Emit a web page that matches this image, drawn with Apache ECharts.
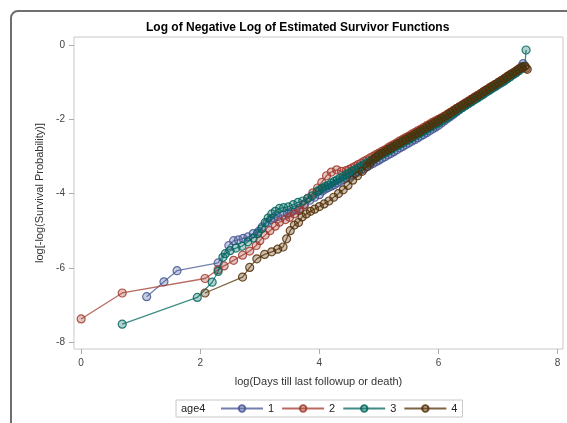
<!DOCTYPE html>
<html>
<head>
<meta charset="utf-8">
<script src="https://cdn.jsdelivr.net/npm/echarts@6/dist/echarts.min.js"></script>
<style>
  html, body { margin: 0; padding: 0; background: #fff; }
  #chart-container { width: 567px; height: 423px; }
</style>
</head>
<body>
<div id="chart-container"></div>
<script>
var dom = document.getElementById('chart-container');
var myChart = echarts.init(dom, null, { renderer: 'canvas' });

var groupNames = ['1', '2', '3', '4'];
var xTicks = [0, 2, 4, 6, 8];
var yTicks = [-8, -6, -4, -2, 0];

// age4 = 1
var group1 = [
  [1.10, -6.78], [1.39, -6.38], [1.61, -6.08], [2.30, -5.87], [2.48, -5.40], [2.56, -5.27],
  [2.64, -5.25], [2.72, -5.21], [2.80, -5.17], [2.89, -5.08], [2.98, -5.02], [3.04, -4.90],
  [3.12, -4.78], [3.18, -4.70], [3.24, -4.66], [3.30, -4.62], [3.39, -4.58], [3.46, -4.53],
  [3.53, -4.50], [3.60, -4.44], [3.67, -4.40], [3.75, -4.30], [3.84, -4.18], [3.92, -4.10],
  [4.00, -4.03], [4.05, -3.93], [4.10, -3.88], [4.15, -3.84], [4.20, -3.80], [4.25, -3.76],
  [4.30, -3.71], [4.35, -3.67], [4.40, -3.62], [4.45, -3.58], [4.50, -3.54], [4.55, -3.50],
  [4.60, -3.46], [4.65, -3.42], [4.70, -3.37], [4.75, -3.33], [4.80, -3.28], [4.85, -3.23],
  [4.90, -3.19], [4.95, -3.14], [5.00, -3.10], [5.05, -3.05], [5.10, -3.01], [5.15, -2.96],
  [5.20, -2.92], [5.25, -2.87], [5.30, -2.82], [5.35, -2.77], [5.40, -2.73], [5.45, -2.68],
  [5.50, -2.64], [5.55, -2.59], [5.60, -2.55], [5.65, -2.50], [5.70, -2.45], [5.75, -2.41],
  [5.80, -2.36], [5.85, -2.31], [5.90, -2.26], [5.95, -2.21], [6.00, -2.16], [6.05, -2.10],
  [6.10, -2.04], [6.15, -1.98], [6.20, -1.92], [6.25, -1.86], [6.30, -1.80], [6.35, -1.74],
  [6.40, -1.68], [6.45, -1.62], [6.50, -1.57], [6.55, -1.51], [6.60, -1.46], [6.65, -1.41],
  [6.70, -1.36], [6.75, -1.30], [6.80, -1.25], [6.85, -1.20], [6.90, -1.15], [6.95, -1.10],
  [7.00, -1.05], [7.05, -1.00], [7.10, -0.95], [7.15, -0.89], [7.20, -0.84], [7.25, -0.79],
  [7.30, -0.73], [7.35, -0.66], [7.40, -0.57], [7.42, -0.50]
];

// age4 = 2
var group2 = [
  [0.00, -7.38], [0.69, -6.68], [2.08, -6.29], [2.30, -6.05], [2.40, -5.95], [2.56, -5.80],
  [2.71, -5.66], [2.83, -5.55], [2.94, -5.40], [3.00, -5.27], [3.09, -5.12], [3.17, -5.00],
  [3.26, -4.88], [3.33, -4.77], [3.43, -4.70], [3.50, -4.64], [3.58, -4.55], [3.66, -4.46],
  [3.74, -4.30], [3.81, -4.12], [3.89, -3.98], [3.97, -3.85], [4.04, -3.70], [4.12, -3.52],
  [4.20, -3.42], [4.29, -3.36], [4.37, -3.40], [4.45, -3.38], [4.50, -3.35], [4.55, -3.31],
  [4.60, -3.27], [4.65, -3.22], [4.70, -3.18], [4.75, -3.13], [4.80, -3.09], [4.85, -3.04],
  [4.90, -3.00], [4.95, -2.95], [5.00, -2.91], [5.05, -2.86], [5.10, -2.82], [5.15, -2.77],
  [5.20, -2.72], [5.25, -2.68], [5.30, -2.63], [5.35, -2.58], [5.40, -2.54], [5.45, -2.49],
  [5.50, -2.45], [5.55, -2.40], [5.60, -2.36], [5.65, -2.31], [5.70, -2.27], [5.75, -2.22],
  [5.80, -2.17], [5.85, -2.13], [5.90, -2.08], [5.95, -2.04], [6.00, -2.00], [6.05, -1.96],
  [6.10, -1.91], [6.15, -1.86], [6.20, -1.81], [6.25, -1.76], [6.30, -1.71], [6.35, -1.66],
  [6.40, -1.61], [6.45, -1.56], [6.50, -1.51], [6.55, -1.46], [6.60, -1.41], [6.65, -1.36],
  [6.70, -1.31], [6.75, -1.26], [6.80, -1.21], [6.85, -1.16], [6.90, -1.11], [6.95, -1.06],
  [7.00, -1.01], [7.05, -0.96], [7.10, -0.91], [7.15, -0.86], [7.20, -0.80], [7.25, -0.75],
  [7.30, -0.70], [7.35, -0.65], [7.40, -0.61], [7.47, -0.62]
];

// age4 = 3
var group3 = [
  [0.69, -7.52], [1.95, -6.80], [2.20, -6.39], [2.30, -6.10], [2.38, -5.72], [2.42, -5.62],
  [2.50, -5.54], [2.60, -5.47], [2.70, -5.42], [2.80, -5.30], [2.89, -5.20], [2.96, -5.08],
  [3.03, -4.95], [3.09, -4.78], [3.14, -4.66], [3.20, -4.55], [3.26, -4.48], [3.33, -4.40],
  [3.40, -4.38], [3.48, -4.36], [3.56, -4.30], [3.64, -4.24], [3.72, -4.20], [3.80, -4.14],
  [3.88, -4.06], [3.96, -3.95], [4.00, -3.91], [4.05, -3.86], [4.10, -3.81], [4.15, -3.77],
  [4.20, -3.72], [4.25, -3.67], [4.30, -3.63], [4.35, -3.58], [4.40, -3.54], [4.45, -3.49],
  [4.50, -3.45], [4.55, -3.40], [4.60, -3.36], [4.65, -3.31], [4.70, -3.27], [4.75, -3.22],
  [4.80, -3.17], [4.85, -3.13], [4.90, -3.08], [4.95, -3.04], [5.00, -2.99], [5.05, -2.95],
  [5.10, -2.90], [5.15, -2.86], [5.20, -2.81], [5.25, -2.76], [5.30, -2.72], [5.35, -2.67],
  [5.40, -2.63], [5.45, -2.58], [5.50, -2.54], [5.55, -2.50], [5.60, -2.45], [5.65, -2.41],
  [5.70, -2.36], [5.75, -2.32], [5.80, -2.27], [5.85, -2.22], [5.90, -2.18], [5.95, -2.13],
  [6.00, -2.09], [6.05, -2.04], [6.10, -1.99], [6.15, -1.94], [6.20, -1.89], [6.25, -1.84],
  [6.30, -1.78], [6.35, -1.73], [6.40, -1.68], [6.45, -1.63], [6.50, -1.58], [6.55, -1.53],
  [6.60, -1.48], [6.65, -1.43], [6.70, -1.38], [6.75, -1.33], [6.80, -1.27], [6.85, -1.22],
  [6.90, -1.17], [6.95, -1.12], [7.00, -1.07], [7.05, -1.02], [7.10, -0.97], [7.15, -0.91],
  [7.20, -0.86], [7.25, -0.80], [7.30, -0.75], [7.35, -0.69], [7.40, -0.63], [7.45, -0.57],
  [7.47, -0.13]
];

// age4 = 4
var group4 = [
  [2.08, -6.68], [2.71, -6.25], [2.83, -5.99], [2.95, -5.76], [3.08, -5.64], [3.20, -5.57],
  [3.30, -5.50], [3.39, -5.44], [3.45, -5.22], [3.51, -5.00], [3.58, -4.85], [3.65, -4.78],
  [3.71, -4.63], [3.78, -4.55], [3.85, -4.48], [3.92, -4.42], [4.00, -4.35], [4.08, -4.28],
  [4.16, -4.20], [4.24, -4.10], [4.32, -4.00], [4.40, -3.90], [4.48, -3.78], [4.56, -3.64],
  [4.64, -3.52], [4.72, -3.40], [4.80, -3.27], [4.85, -3.18], [4.90, -3.09], [4.95, -3.02],
  [5.00, -2.96], [5.05, -2.91], [5.10, -2.86], [5.15, -2.81], [5.20, -2.77], [5.25, -2.72],
  [5.30, -2.67], [5.35, -2.63], [5.40, -2.58], [5.45, -2.54], [5.50, -2.49], [5.55, -2.45],
  [5.60, -2.40], [5.65, -2.36], [5.70, -2.31], [5.75, -2.26], [5.80, -2.21], [5.85, -2.17],
  [5.90, -2.12], [5.95, -2.08], [6.00, -2.03], [6.05, -1.98], [6.10, -1.93], [6.15, -1.88],
  [6.20, -1.83], [6.25, -1.78], [6.30, -1.72], [6.35, -1.67], [6.40, -1.62], [6.45, -1.57],
  [6.50, -1.52], [6.55, -1.47], [6.60, -1.42], [6.65, -1.37], [6.70, -1.32], [6.75, -1.26],
  [6.80, -1.21], [6.85, -1.16], [6.90, -1.11], [6.95, -1.06], [7.00, -1.01], [7.05, -0.96],
  [7.10, -0.91], [7.15, -0.85], [7.20, -0.80], [7.25, -0.75], [7.30, -0.70], [7.35, -0.64],
  [7.40, -0.60], [7.45, -0.57], [7.49, -0.65]
];

var groups = [group1, group2, group3, group4];
var lineColors = ['#445694', '#A23A2E', '#01665E', '#543005'];
var fillColors = ['rgba(68,86,148,0.35)', 'rgba(162,58,46,0.35)', 'rgba(1,102,94,0.35)', 'rgba(84,48,5,0.35)'];

var series = groups.map(function (g, i) {
  return {
    name: groupNames[i],
    type: 'line',
    data: g,
    symbol: 'circle',
    symbolSize: 8,
    showSymbol: true,
    z: 2 + i,
    lineStyle: { color: lineColors[i], width: 1.3, opacity: 0.75 },
    itemStyle: { color: fillColors[i], borderColor: lineColors[i], borderWidth: 1.2, opacity: 0.85 },
    emphasis: { disabled: true }
  };
});

var font = 'Liberation Sans, Arial, sans-serif';

var option = {
  animation: false,
  title: {
    text: 'Log of Negative Log of Estimated Survivor Functions',
    left: 141,
    top: 17,
    textStyle: { fontFamily: font, fontSize: 12, fontWeight: 'bold', color: '#000' }
  },
  grid: {
    left: 74, right: 4, top: 37, bottom: 74,
    show: true, borderColor: '#c8c8c8', borderWidth: 1
  },
  legend: {
    data: groupNames,
    left: 176,
    top: 400,
    padding: [3, 5, 3, 44],
    itemWidth: 42,
    itemHeight: 8,
    itemGap: 7,
    borderColor: '#c8c8c8',
    borderWidth: 1,
    textStyle: { fontFamily: font, fontSize: 11, color: '#222' }
  },
  xAxis: {
    type: 'value',
    min: -0.12,
    max: 8.09,
    name: 'log(Days till last followup or death)',
    nameLocation: 'middle',
    nameGap: 27,
    nameTextStyle: { fontFamily: font, fontSize: 11, color: '#333' },
    axisLine: { show: false, onZero: false },
    splitLine: { show: false },
    axisTick: { show: true, customValues: xTicks, length: 5, lineStyle: { color: '#aaa' } },
    axisLabel: { customValues: xTicks, margin: 9, fontFamily: font, fontSize: 10, color: '#444' }
  },
  yAxis: {
    type: 'value',
    min: -8.19,
    max: 0.22,
    name: 'log[-log(Survival Probability)]',
    nameLocation: 'middle',
    nameGap: 29,
    nameTextStyle: { fontFamily: font, fontSize: 11, color: '#333' },
    axisLine: { show: false, onZero: false },
    splitLine: { show: false },
    axisTick: { show: true, customValues: yTicks, length: 5, lineStyle: { color: '#aaa' } },
    axisLabel: { customValues: yTicks, margin: 9, fontFamily: font, fontSize: 10, color: '#444' }
  },
  graphic: [
    {
      type: 'rect',
      shape: { x: 11, y: 11, width: 620, height: 460, r: 7 },
      style: { fill: 'none', stroke: '#6f6f6f', lineWidth: 2 },
      silent: true
    },
    {
      type: 'text',
      left: 181,
      top: 403,
      style: { text: 'age4', fontFamily: font, fontSize: 11, fill: '#222' }
    }
  ],
  series: series
};

myChart.setOption(option);
window.addEventListener('resize', myChart.resize);
</script>
</body>
</html>
